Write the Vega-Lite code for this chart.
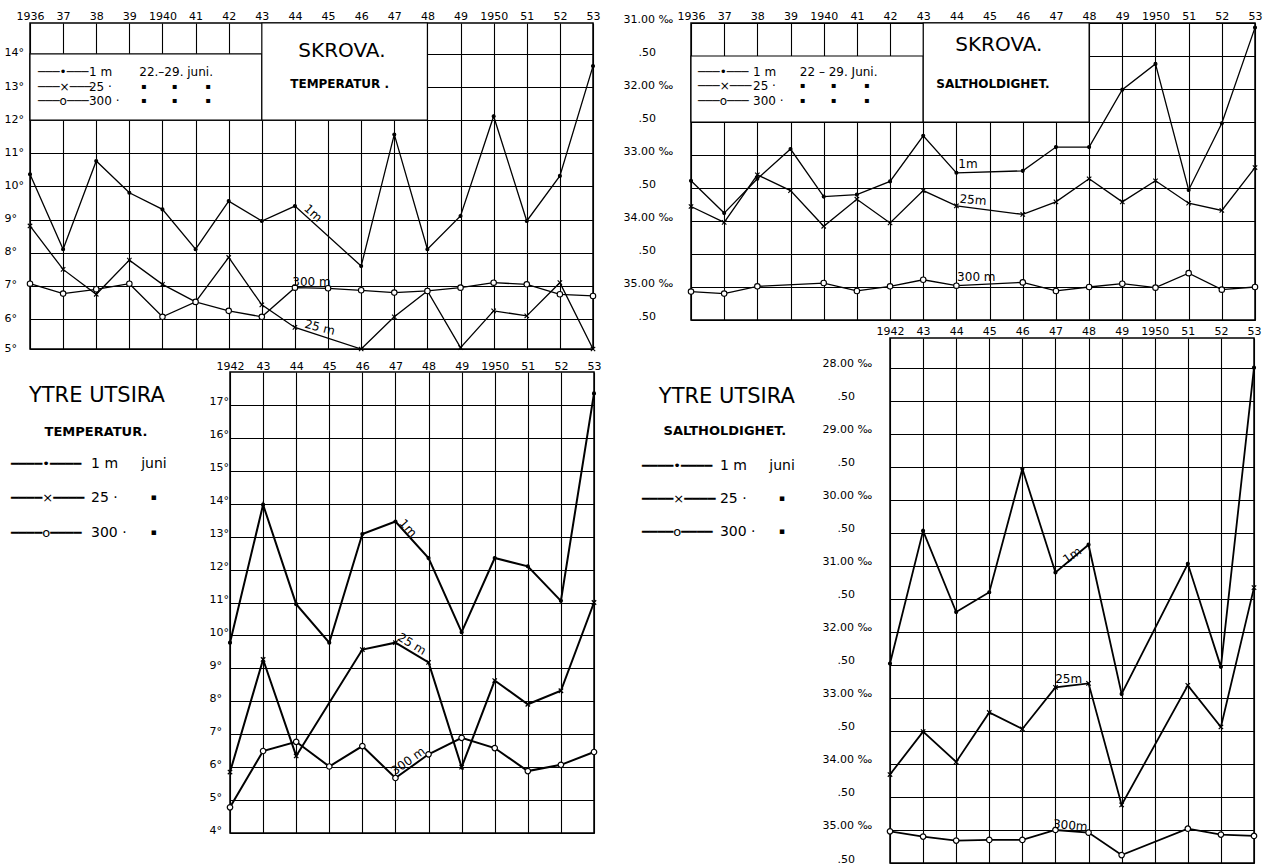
{
  "$schema": "https://vega.github.io/schema/vega-lite/v6.json",
  "background": "white",
  "padding": {"left": 3, "top": 9, "right": 0, "bottom": 0},
  "config": {
    "view": {"stroke": "black", "strokeWidth": 1.5},
    "axis": {"domain": false, "ticks": false, "tickSize": 0, "grid": true, "gridColor": "black", "gridOpacity": 1, "gridWidth": 1.1, "labelColor": "black", "labelFont": "DejaVu Sans", "labelFontSize": 11, "labelOverlap": false, "labelFlush": false, "labelBound": false, "tickCount": 60},
    "text": {"font": "DejaVu Sans", "color": "black"}
  },
  "datasets": {
    "skrova_temp": [
      {"year":1936,"depth":"1m","value":10.37},{"year":1937,"depth":"1m","value":8.11},{"year":1938,"depth":"1m","value":10.77},{"year":1939,"depth":"1m","value":9.81},{"year":1940,"depth":"1m","value":9.31},{"year":1941,"depth":"1m","value":8.11},{"year":1942,"depth":"1m","value":9.56},{"year":1943,"depth":"1m","value":8.96},{"year":1944,"depth":"1m","value":9.41},{"year":1946,"depth":"1m","value":7.6},{"year":1947,"depth":"1m","value":11.57},{"year":1948,"depth":"1m","value":8.11},{"year":1949,"depth":"1m","value":9.11},{"year":1950,"depth":"1m","value":12.12},{"year":1951,"depth":"1m","value":8.96},{"year":1952,"depth":"1m","value":10.32},{"year":1953,"depth":"1m","value":13.63},
      {"year":1936,"depth":"25m","value":8.81},{"year":1937,"depth":"25m","value":7.5},{"year":1938,"depth":"25m","value":6.75},{"year":1939,"depth":"25m","value":7.78},{"year":1940,"depth":"25m","value":7.05},{"year":1941,"depth":"25m","value":6.52},{"year":1942,"depth":"25m","value":7.86},{"year":1943,"depth":"25m","value":6.43},{"year":1944,"depth":"25m","value":5.75},{"year":1946,"depth":"25m","value":5.1},{"year":1947,"depth":"25m","value":6.07},{"year":1948,"depth":"25m","value":6.85},{"year":1949,"depth":"25m","value":5.14},{"year":1950,"depth":"25m","value":6.25},{"year":1951,"depth":"25m","value":6.1},{"year":1952,"depth":"25m","value":7.1},{"year":1953,"depth":"25m","value":5.1},
      {"year":1936,"depth":"300m","value":7.07},{"year":1937,"depth":"300m","value":6.77},{"year":1938,"depth":"300m","value":6.9},{"year":1939,"depth":"300m","value":7.07},{"year":1940,"depth":"300m","value":6.07},{"year":1941,"depth":"300m","value":6.52},{"year":1942,"depth":"300m","value":6.25},{"year":1943,"depth":"300m","value":6.07},{"year":1944,"depth":"300m","value":6.95},{"year":1945,"depth":"300m","value":6.93},{"year":1946,"depth":"300m","value":6.87},{"year":1947,"depth":"300m","value":6.8},{"year":1948,"depth":"300m","value":6.85},{"year":1949,"depth":"300m","value":6.95},{"year":1950,"depth":"300m","value":7.1},{"year":1951,"depth":"300m","value":7.05},{"year":1952,"depth":"300m","value":6.75},{"year":1953,"depth":"300m","value":6.7}
    ],
    "skrova_salt": [
      {"year":1936,"depth":"1m","value":33.39},{"year":1937,"depth":"1m","value":33.88},{"year":1938,"depth":"1m","value":33.36},{"year":1939,"depth":"1m","value":32.91},{"year":1940,"depth":"1m","value":33.63},{"year":1941,"depth":"1m","value":33.6},{"year":1942,"depth":"1m","value":33.4},{"year":1943,"depth":"1m","value":32.71},{"year":1944,"depth":"1m","value":33.27},{"year":1946,"depth":"1m","value":33.24},{"year":1947,"depth":"1m","value":32.88},{"year":1948,"depth":"1m","value":32.88},{"year":1949,"depth":"1m","value":32.01},{"year":1950,"depth":"1m","value":31.62},{"year":1951,"depth":"1m","value":33.53},{"year":1952,"depth":"1m","value":32.52},{"year":1953,"depth":"1m","value":31.07},
      {"year":1936,"depth":"25m","value":33.78},{"year":1937,"depth":"25m","value":34.02},{"year":1938,"depth":"25m","value":33.3},{"year":1939,"depth":"25m","value":33.54},{"year":1940,"depth":"25m","value":34.08},{"year":1941,"depth":"25m","value":33.67},{"year":1942,"depth":"25m","value":34.03},{"year":1943,"depth":"25m","value":33.54},{"year":1944,"depth":"25m","value":33.77},{"year":1946,"depth":"25m","value":33.9},{"year":1947,"depth":"25m","value":33.71},{"year":1948,"depth":"25m","value":33.36},{"year":1949,"depth":"25m","value":33.71},{"year":1950,"depth":"25m","value":33.39},{"year":1951,"depth":"25m","value":33.73},{"year":1952,"depth":"25m","value":33.84},{"year":1953,"depth":"25m","value":33.19},
      {"year":1936,"depth":"300m","value":35.07},{"year":1937,"depth":"300m","value":35.1},{"year":1938,"depth":"300m","value":34.99},{"year":1940,"depth":"300m","value":34.94},{"year":1941,"depth":"300m","value":35.06},{"year":1942,"depth":"300m","value":34.99},{"year":1943,"depth":"300m","value":34.89},{"year":1944,"depth":"300m","value":34.98},{"year":1946,"depth":"300m","value":34.93},{"year":1947,"depth":"300m","value":35.06},{"year":1948,"depth":"300m","value":35.0},{"year":1949,"depth":"300m","value":34.95},{"year":1950,"depth":"300m","value":35.01},{"year":1951,"depth":"300m","value":34.79},{"year":1952,"depth":"300m","value":35.04},{"year":1953,"depth":"300m","value":35.0}
    ],
    "utsira_temp": [
      {"year":1942,"depth":"1m","value":9.78},{"year":1943,"depth":"1m","value":13.97},{"year":1944,"depth":"1m","value":10.95},{"year":1945,"depth":"1m","value":9.78},{"year":1946,"depth":"1m","value":13.08},{"year":1947,"depth":"1m","value":13.46},{"year":1948,"depth":"1m","value":12.35},{"year":1949,"depth":"1m","value":10.1},{"year":1950,"depth":"1m","value":12.35},{"year":1951,"depth":"1m","value":12.1},{"year":1952,"depth":"1m","value":11.05},{"year":1953,"depth":"1m","value":17.35},
      {"year":1942,"depth":"25m","value":5.85},{"year":1943,"depth":"25m","value":9.27},{"year":1944,"depth":"25m","value":6.34},{"year":1946,"depth":"25m","value":9.57},{"year":1947,"depth":"25m","value":9.78},{"year":1948,"depth":"25m","value":9.18},{"year":1949,"depth":"25m","value":6.0},{"year":1950,"depth":"25m","value":8.63},{"year":1951,"depth":"25m","value":7.91},{"year":1952,"depth":"25m","value":8.32},{"year":1953,"depth":"25m","value":11.0},
      {"year":1942,"depth":"300m","value":4.78},{"year":1943,"depth":"300m","value":6.49},{"year":1944,"depth":"300m","value":6.77},{"year":1945,"depth":"300m","value":6.02},{"year":1946,"depth":"300m","value":6.64},{"year":1947,"depth":"300m","value":5.67},{"year":1948,"depth":"300m","value":6.39},{"year":1949,"depth":"300m","value":6.89},{"year":1950,"depth":"300m","value":6.58},{"year":1951,"depth":"300m","value":5.88},{"year":1952,"depth":"300m","value":6.07},{"year":1953,"depth":"300m","value":6.46}
    ],
    "utsira_salt": [
      {"year":1942,"depth":"1m","value":32.48},{"year":1943,"depth":"1m","value":30.47},{"year":1944,"depth":"1m","value":31.7},{"year":1945,"depth":"1m","value":31.4},{"year":1946,"depth":"1m","value":29.53},{"year":1947,"depth":"1m","value":31.1},{"year":1948,"depth":"1m","value":30.68},{"year":1949,"depth":"1m","value":32.94},{"year":1951,"depth":"1m","value":30.97},{"year":1952,"depth":"1m","value":32.53},{"year":1953,"depth":"1m","value":28.0},
      {"year":1942,"depth":"25m","value":34.16},{"year":1943,"depth":"25m","value":33.51},{"year":1944,"depth":"25m","value":33.97},{"year":1945,"depth":"25m","value":33.22},{"year":1946,"depth":"25m","value":33.47},{"year":1947,"depth":"25m","value":32.84},{"year":1948,"depth":"25m","value":32.78},{"year":1949,"depth":"25m","value":34.62},{"year":1951,"depth":"25m","value":32.81},{"year":1952,"depth":"25m","value":33.44},{"year":1953,"depth":"25m","value":31.33},
      {"year":1942,"depth":"300m","value":35.02},{"year":1943,"depth":"300m","value":35.1},{"year":1944,"depth":"300m","value":35.16},{"year":1945,"depth":"300m","value":35.15},{"year":1946,"depth":"300m","value":35.15},{"year":1947,"depth":"300m","value":35.0},{"year":1948,"depth":"300m","value":35.04},{"year":1949,"depth":"300m","value":35.38},{"year":1951,"depth":"300m","value":34.98},{"year":1952,"depth":"300m","value":35.07},{"year":1953,"depth":"300m","value":35.09}
    ]
  },
  "spacing": 20,
  "hconcat": [
    {
      "spacing": 4,
      "vconcat": [
        {
          "width": 563, "height": 326,
          "layer": [
            {"data": {"name": "skrova_temp"}, "mark": {"type": "line", "color": "black", "strokeWidth": 1.3},
             "encoding": {
               "x": {"field": "year", "type": "quantitative", "scale": {"domain": [1936, 1953], "zero": false, "nice": false}, "axis": {"orient": "top", "title": null, "tickCount": 60, "values": [1936,1937,1938,1939,1940,1941,1942,1943,1944,1945,1946,1947,1948,1949,1950,1951,1952,1953], "labelExpr": "datum.value == 1936 || datum.value == 1940 || datum.value == 1950 ? '' + datum.value : substring('' + datum.value, 2)", "labelPadding": 2}},
               "y": {"field": "value", "type": "quantitative", "scale": {"domain": [5.1, 14.93], "zero": false, "nice": false}, "axis": {"title": null, "tickCount": 60, "values": [5.1,6,7,8,9,10,11,12,13,14], "labelExpr": "datum.value < 5.5 ? '5°' : datum.value + '°'", "labelAlign": "left", "labelPadding": 26, "labelOffset": -1}},
               "detail": {"field": "depth"}}},
            {"data": {"values": [{"box": "legend"}]}, "mark": {"type": "rect", "fill": "white", "stroke": "black", "strokeWidth": 1.2},
             "encoding": {"x": {"datum": 1936, "type": "quantitative"}, "x2": {"datum": 1943}, "y": {"datum": 12, "type": "quantitative"}, "y2": {"datum": 14}}},
            {"data": {"values": [{"box": "title"}]}, "mark": {"type": "rect", "fill": "white", "stroke": "black", "strokeWidth": 1.2},
             "encoding": {"x": {"datum": 1943, "type": "quantitative"}, "x2": {"datum": 1948}, "y": {"datum": 12, "type": "quantitative"}, "y2": {"datum": 14.93}}},
            {"data": {"name": "skrova_temp"}, "mark": {"type": "point", "filled": true, "stroke": "black", "strokeWidth": 1.1, "opacity": 1},
             "encoding": {
               "x": {"field": "year", "type": "quantitative"},
               "y": {"field": "value", "type": "quantitative"},
               "shape": {"field": "depth", "type": "nominal", "scale": {"domain": ["1m","25m","300m"], "range": ["circle","M-1,-1L1,1M-1,1L1,-1","circle"]}, "legend": null},
               "fill": {"field": "depth", "type": "nominal", "scale": {"domain": ["1m","25m","300m"], "range": ["black","white","white"]}, "legend": null},
               "size": {"field": "depth", "type": "ordinal", "scale": {"domain": ["1m","25m","300m"], "range": [9,30,38]}, "legend": null}}},
            {"data": {"values": [{"t": "SKROVA."}]}, "mark": {"type": "text", "fontSize": 20, "align": "center", "baseline": "middle"},
             "encoding": {"x": {"datum": 1945.42, "type": "quantitative"}, "y": {"datum": 14.09, "type": "quantitative"}, "text": {"field": "t"}}},
            {"data": {"values": [{"t": "TEMPERATUR ."}]}, "mark": {"type": "text", "fontSize": 12, "fontWeight": "bold", "align": "center", "baseline": "middle"},
             "encoding": {"x": {"datum": 1945.35, "type": "quantitative"}, "y": {"datum": 13.09, "type": "quantitative"}, "text": {"field": "t"}}},
            {"data": {"values": [{"t": ["───•───", "───×───", "───o───"]}]}, "mark": {"type": "text", "fontSize": 12, "align": "left", "baseline": "alphabetic", "lineHeight": 14.5},
             "encoding": {"x": {"datum": 1936.24, "type": "quantitative"}, "y": {"datum": 13.33, "type": "quantitative"}, "text": {"field": "t"}}},
            {"data": {"values": [{"t": ["1 m", "25 ·", "300 ·"]}]}, "mark": {"type": "text", "fontSize": 12, "align": "left", "baseline": "alphabetic", "lineHeight": 14.5},
             "encoding": {"x": {"datum": 1937.78, "type": "quantitative"}, "y": {"datum": 13.33, "type": "quantitative"}, "text": {"field": "t"}}},
            {"data": {"values": [{"t": "22.–29. juni."}]}, "mark": {"type": "text", "fontSize": 12, "align": "left", "baseline": "alphabetic"},
             "encoding": {"x": {"datum": 1939.3, "type": "quantitative"}, "y": {"datum": 13.33, "type": "quantitative"}, "text": {"field": "t"}}},
            {"data": {"values": [{"t": ["▪\u00a0\u00a0\u00a0\u00a0\u00a0\u00a0\u00a0\u00a0\u00a0\u00a0▪\u00a0\u00a0\u00a0\u00a0\u00a0\u00a0\u00a0\u00a0\u00a0\u00a0\u00a0▪", "▪\u00a0\u00a0\u00a0\u00a0\u00a0\u00a0\u00a0\u00a0\u00a0\u00a0▪\u00a0\u00a0\u00a0\u00a0\u00a0\u00a0\u00a0\u00a0\u00a0\u00a0\u00a0▪"]}]}, "mark": {"type": "text", "fontSize": 8, "align": "left", "baseline": "alphabetic", "lineHeight": 14.5},
             "encoding": {"x": {"datum": 1939.35, "type": "quantitative"}, "y": {"datum": 12.95, "type": "quantitative"}, "text": {"field": "t"}}},
            {"data": {"values": [{"t": "1m"}]}, "mark": {"type": "text", "fontSize": 12, "angle": 42, "align": "center", "baseline": "middle"},
             "encoding": {"x": {"datum": 1944.55, "type": "quantitative"}, "y": {"datum": 9.2, "type": "quantitative"}, "text": {"field": "t"}}},
            {"data": {"values": [{"t": "25 m"}]}, "mark": {"type": "text", "fontSize": 12, "angle": 14, "align": "center", "baseline": "middle"},
             "encoding": {"x": {"datum": 1944.75, "type": "quantitative"}, "y": {"datum": 5.75, "type": "quantitative"}, "text": {"field": "t"}}},
            {"data": {"values": [{"t": "300 m"}]}, "mark": {"type": "text", "fontSize": 12, "align": "center", "baseline": "middle"},
             "encoding": {"x": {"datum": 1944.5, "type": "quantitative"}, "y": {"datum": 7.12, "type": "quantitative"}, "text": {"field": "t"}}}
          ]
        },
        {
          "spacing": 0,
          "bounds": "flush",
          "hconcat": [
            {"width": 200, "height": 10, "view": {"stroke": null}, "data": {"values": []}, "mark": "point"},
            {
              "width": 364, "height": 461,
              "layer": [
                {"data": {"name": "utsira_temp"}, "mark": {"type": "line", "color": "black", "strokeWidth": 2},
                 "encoding": {
                   "x": {"field": "year", "type": "quantitative", "scale": {"domain": [1942, 1953], "zero": false, "nice": false}, "axis": {"orient": "top", "title": null, "tickCount": 60, "values": [1942,1943,1944,1945,1946,1947,1948,1949,1950,1951,1952,1953], "labelExpr": "datum.value == 1942 || datum.value == 1950 ? '' + datum.value : substring('' + datum.value, 2)", "labelPadding": 1}},
                   "y": {"field": "value", "type": "quantitative", "scale": {"domain": [4, 18], "zero": false, "nice": false}, "axis": {"title": null, "tickCount": 60, "values": [4,5,6,7,8,9,10,11,12,13,14,15,16,17], "labelExpr": "datum.value + '°'", "labelAlign": "left", "labelPadding": 21, "labelOffset": -3}},
                   "detail": {"field": "depth"}}},
                {"data": {"name": "utsira_temp"}, "mark": {"type": "point", "filled": true, "stroke": "black", "strokeWidth": 1.2, "opacity": 1},
                 "encoding": {
                   "x": {"field": "year", "type": "quantitative"},
                   "y": {"field": "value", "type": "quantitative"},
                   "shape": {"field": "depth", "type": "nominal", "scale": {"domain": ["1m","25m","300m"], "range": ["circle","M-1,-1L1,1M-1,1L1,-1","circle"]}, "legend": null},
                   "fill": {"field": "depth", "type": "nominal", "scale": {"domain": ["1m","25m","300m"], "range": ["black","white","white"]}, "legend": null},
                   "size": {"field": "depth", "type": "ordinal", "scale": {"domain": ["1m","25m","300m"], "range": [9,30,40]}, "legend": null}}},
                {"data": {"values": [{"t": "YTRE UTSIRA"}]}, "mark": {"type": "text", "fontSize": 21, "align": "center", "baseline": "middle"},
                 "encoding": {"x": {"datum": 1937.98, "type": "quantitative"}, "y": {"datum": 17.27, "type": "quantitative"}, "text": {"field": "t"}}},
                {"data": {"values": [{"t": "TEMPERATUR."}]}, "mark": {"type": "text", "fontSize": 13, "fontWeight": "bold", "align": "center", "baseline": "middle"},
                 "encoding": {"x": {"datum": 1937.95, "type": "quantitative"}, "y": {"datum": 16.18, "type": "quantitative"}, "text": {"field": "t"}}},
                {"data": {"values": [{"t": ["━━━━•━━━━", "━━━━×━━━━", "━━━━o━━━━"]}]}, "mark": {"type": "text", "fontSize": 13, "align": "left", "baseline": "alphabetic", "lineHeight": 34.5},
                 "encoding": {"x": {"datum": 1935.38, "type": "quantitative"}, "y": {"datum": 15.085, "type": "quantitative"}, "text": {"field": "t"}}},
                {"data": {"values": [{"t": ["1 m", "25 ·", "300 ·"]}]}, "mark": {"type": "text", "fontSize": 14, "align": "left", "baseline": "alphabetic", "lineHeight": 34.5},
                 "encoding": {"x": {"datum": 1937.8, "type": "quantitative"}, "y": {"datum": 15.085, "type": "quantitative"}, "text": {"field": "t"}}},
                {"data": {"values": [{"t": "juni"}]}, "mark": {"type": "text", "fontSize": 14, "align": "center", "baseline": "alphabetic"},
                 "encoding": {"x": {"datum": 1939.7, "type": "quantitative"}, "y": {"datum": 15.085, "type": "quantitative"}, "text": {"field": "t"}}},
                {"data": {"values": [{"t": ["▪", "▪"]}]}, "mark": {"type": "text", "fontSize": 9, "align": "center", "baseline": "alphabetic", "lineHeight": 34.5},
                 "encoding": {"x": {"datum": 1939.7, "type": "quantitative"}, "y": {"datum": 14.1, "type": "quantitative"}, "text": {"field": "t"}}},
                {"data": {"values": [{"t": "1m"}]}, "mark": {"type": "text", "fontSize": 12, "angle": 48, "align": "center", "baseline": "middle"},
                 "encoding": {"x": {"datum": 1947.38, "type": "quantitative"}, "y": {"datum": 13.26, "type": "quantitative"}, "text": {"field": "t"}}},
                {"data": {"values": [{"t": "25 m"}]}, "mark": {"type": "text", "fontSize": 12, "angle": 31, "align": "center", "baseline": "middle"},
                 "encoding": {"x": {"datum": 1947.5, "type": "quantitative"}, "y": {"datum": 9.74, "type": "quantitative"}, "text": {"field": "t"}}},
                {"data": {"values": [{"t": "300 m"}]}, "mark": {"type": "text", "fontSize": 12, "angle": -36, "align": "center", "baseline": "middle"},
                 "encoding": {"x": {"datum": 1947.38, "type": "quantitative"}, "y": {"datum": 6.19, "type": "quantitative"}, "text": {"field": "t"}}}
              ]
            }
          ]
        }
      ]
    },
    {
      "spacing": 2,
      "vconcat": [
        {
          "width": 564, "height": 297,
          "layer": [
            {"data": {"name": "skrova_salt"}, "mark": {"type": "line", "color": "black", "strokeWidth": 1.3},
             "encoding": {
               "x": {"field": "year", "type": "quantitative", "scale": {"domain": [1936, 1953], "zero": false, "nice": false}, "axis": {"orient": "top", "title": null, "tickCount": 60, "values": [1936,1937,1938,1939,1940,1941,1942,1943,1944,1945,1946,1947,1948,1949,1950,1951,1952,1953], "labelExpr": "datum.value == 1936 || datum.value == 1940 || datum.value == 1950 ? '' + datum.value : substring('' + datum.value, 2)", "labelPadding": 2}},
               "y": {"field": "value", "type": "quantitative", "scale": {"domain": [31, 35.5], "reverse": true, "zero": false, "nice": false}, "axis": {"title": null, "tickCount": 60, "values": [31,31.5,32,32.5,33,33.5,34,34.5,35,35.5], "labelExpr": "datum.value % 1 == 0 ? format(datum.value, '.2f') + ' ‰' : '.50'", "labelAlign": "left", "labelPadding": {"condition": {"test": "datum.value % 1 != 0", "value": 53}, "value": 68}, "labelOffset": -4}},
               "detail": {"field": "depth"}}},
            {"data": {"values": [{"box": "legend"}]}, "mark": {"type": "rect", "fill": "white", "stroke": "black", "strokeWidth": 1.2},
             "encoding": {"x": {"datum": 1936, "type": "quantitative"}, "x2": {"datum": 1943}, "y": {"datum": 31.5, "type": "quantitative"}, "y2": {"datum": 32.5}}},
            {"data": {"values": [{"box": "title"}]}, "mark": {"type": "rect", "fill": "white", "stroke": "black", "strokeWidth": 1.2},
             "encoding": {"x": {"datum": 1943, "type": "quantitative"}, "x2": {"datum": 1948}, "y": {"datum": 31.0, "type": "quantitative"}, "y2": {"datum": 32.5}}},
            {"data": {"name": "skrova_salt"}, "mark": {"type": "point", "filled": true, "stroke": "black", "strokeWidth": 1.1, "opacity": 1},
             "encoding": {
               "x": {"field": "year", "type": "quantitative"},
               "y": {"field": "value", "type": "quantitative"},
               "shape": {"field": "depth", "type": "nominal", "scale": {"domain": ["1m","25m","300m"], "range": ["circle","M-1,-1L1,1M-1,1L1,-1","circle"]}, "legend": null},
               "fill": {"field": "depth", "type": "nominal", "scale": {"domain": ["1m","25m","300m"], "range": ["black","white","white"]}, "legend": null},
               "size": {"field": "depth", "type": "ordinal", "scale": {"domain": ["1m","25m","300m"], "range": [9,30,38]}, "legend": null}}},
            {"data": {"values": [{"t": "SKROVA."}]}, "mark": {"type": "text", "fontSize": 20, "align": "center", "baseline": "middle"},
             "encoding": {"x": {"datum": 1945.28, "type": "quantitative"}, "y": {"datum": 31.33, "type": "quantitative"}, "text": {"field": "t"}}},
            {"data": {"values": [{"t": "SALTHOLDIGHET."}]}, "mark": {"type": "text", "fontSize": 12, "fontWeight": "bold", "align": "center", "baseline": "middle"},
             "encoding": {"x": {"datum": 1945.1, "type": "quantitative"}, "y": {"datum": 31.92, "type": "quantitative"}, "text": {"field": "t"}}},
            {"data": {"values": [{"t": ["───•───", "───×───", "───o───"]}]}, "mark": {"type": "text", "fontSize": 12, "align": "left", "baseline": "alphabetic", "lineHeight": 14.5},
             "encoding": {"x": {"datum": 1936.21, "type": "quantitative"}, "y": {"datum": 31.8, "type": "quantitative"}, "text": {"field": "t"}}},
            {"data": {"values": [{"t": ["1  m", "25 ·", "300 ·"]}]}, "mark": {"type": "text", "fontSize": 12, "align": "left", "baseline": "alphabetic", "lineHeight": 14.5},
             "encoding": {"x": {"datum": 1937.87, "type": "quantitative"}, "y": {"datum": 31.8, "type": "quantitative"}, "text": {"field": "t"}}},
            {"data": {"values": [{"t": "22 – 29. Juni."}]}, "mark": {"type": "text", "fontSize": 12, "align": "left", "baseline": "alphabetic"},
             "encoding": {"x": {"datum": 1939.28, "type": "quantitative"}, "y": {"datum": 31.8, "type": "quantitative"}, "text": {"field": "t"}}},
            {"data": {"values": [{"t": ["\u00a0▪\u00a0\u00a0\u00a0\u00a0\u00a0\u00a0\u00a0\u00a0\u00a0\u00a0▪\u00a0\u00a0\u00a0\u00a0\u00a0\u00a0\u00a0\u00a0\u00a0\u00a0\u00a0▪", "\u00a0▪\u00a0\u00a0\u00a0\u00a0\u00a0\u00a0\u00a0\u00a0\u00a0\u00a0▪\u00a0\u00a0\u00a0\u00a0\u00a0\u00a0\u00a0\u00a0\u00a0\u00a0\u00a0▪"]}]}, "mark": {"type": "text", "fontSize": 8, "align": "left", "baseline": "alphabetic", "lineHeight": 14.5},
             "encoding": {"x": {"datum": 1939.28, "type": "quantitative"}, "y": {"datum": 31.99, "type": "quantitative"}, "text": {"field": "t"}}},
            {"data": {"values": [{"t": "1m"}]}, "mark": {"type": "text", "fontSize": 12, "align": "center", "baseline": "middle"},
             "encoding": {"x": {"datum": 1944.35, "type": "quantitative"}, "y": {"datum": 33.13, "type": "quantitative"}, "text": {"field": "t"}}},
            {"data": {"values": [{"t": "25m"}]}, "mark": {"type": "text", "fontSize": 12, "angle": 5, "align": "center", "baseline": "middle"},
             "encoding": {"x": {"datum": 1944.5, "type": "quantitative"}, "y": {"datum": 33.68, "type": "quantitative"}, "text": {"field": "t"}}},
            {"data": {"values": [{"t": "300 m"}]}, "mark": {"type": "text", "fontSize": 12, "align": "center", "baseline": "middle"},
             "encoding": {"x": {"datum": 1944.6, "type": "quantitative"}, "y": {"datum": 34.85, "type": "quantitative"}, "text": {"field": "t"}}}
          ]
        },
        {
          "spacing": 0,
          "bounds": "flush",
          "hconcat": [
            {"width": 199, "height": 10, "view": {"stroke": null}, "data": {"values": []}, "mark": "point"},
            {
              "width": 364, "height": 525,
              "layer": [
                {"data": {"name": "utsira_salt"}, "mark": {"type": "line", "color": "black", "strokeWidth": 1.8},
                 "encoding": {
                   "x": {"field": "year", "type": "quantitative", "scale": {"domain": [1942, 1953], "zero": false, "nice": false}, "axis": {"orient": "top", "title": null, "tickCount": 60, "values": [1942,1943,1944,1945,1946,1947,1948,1949,1950,1951,1952,1953], "labelExpr": "datum.value == 1942 || datum.value == 1950 ? '' + datum.value : substring('' + datum.value, 2)", "labelPadding": 2}},
                   "y": {"field": "value", "type": "quantitative", "scale": {"domain": [27.55, 35.5], "reverse": true, "zero": false, "nice": false}, "axis": {"title": null, "tickCount": 60, "values": [28,28.5,29,29.5,30,30.5,31,31.5,32,32.5,33,33.5,34,34.5,35,35.5], "labelExpr": "datum.value % 1 == 0 ? format(datum.value, '.2f') + ' ‰' : '.50'", "labelAlign": "left", "labelPadding": {"condition": {"test": "datum.value % 1 != 0", "value": 53}, "value": 68}, "labelOffset": -4}},
                   "detail": {"field": "depth"}}},
                {"data": {"name": "utsira_salt"}, "mark": {"type": "point", "filled": true, "stroke": "black", "strokeWidth": 1.2, "opacity": 1},
                 "encoding": {
                   "x": {"field": "year", "type": "quantitative"},
                   "y": {"field": "value", "type": "quantitative"},
                   "shape": {"field": "depth", "type": "nominal", "scale": {"domain": ["1m","25m","300m"], "range": ["circle","M-1,-1L1,1M-1,1L1,-1","circle"]}, "legend": null},
                   "fill": {"field": "depth", "type": "nominal", "scale": {"domain": ["1m","25m","300m"], "range": ["black","white","white"]}, "legend": null},
                   "size": {"field": "depth", "type": "ordinal", "scale": {"domain": ["1m","25m","300m"], "range": [9,30,40]}, "legend": null}}},
                {"data": {"values": [{"t": "YTRE UTSIRA"}]}, "mark": {"type": "text", "fontSize": 21, "align": "center", "baseline": "middle"},
                 "encoding": {"x": {"datum": 1937.07, "type": "quantitative"}, "y": {"datum": 28.443, "type": "quantitative"}, "text": {"field": "t"}}},
                {"data": {"values": [{"t": "SALTHOLDIGHET."}]}, "mark": {"type": "text", "fontSize": 13, "fontWeight": "bold", "align": "center", "baseline": "middle"},
                 "encoding": {"x": {"datum": 1937.01, "type": "quantitative"}, "y": {"datum": 28.958, "type": "quantitative"}, "text": {"field": "t"}}},
                {"data": {"values": [{"t": ["━━━━•━━━━", "━━━━×━━━━", "━━━━o━━━━"]}]}, "mark": {"type": "text", "fontSize": 13, "align": "left", "baseline": "alphabetic", "lineHeight": 33},
                 "encoding": {"x": {"datum": 1934.505, "type": "quantitative"}, "y": {"datum": 29.549, "type": "quantitative"}, "text": {"field": "t"}}},
                {"data": {"values": [{"t": ["1  m", "25 ·", "300 ·"]}]}, "mark": {"type": "text", "fontSize": 14, "align": "left", "baseline": "alphabetic", "lineHeight": 33},
                 "encoding": {"x": {"datum": 1936.86, "type": "quantitative"}, "y": {"datum": 29.549, "type": "quantitative"}, "text": {"field": "t"}}},
                {"data": {"values": [{"t": "juni"}]}, "mark": {"type": "text", "fontSize": 14, "align": "center", "baseline": "alphabetic"},
                 "encoding": {"x": {"datum": 1938.74, "type": "quantitative"}, "y": {"datum": 29.549, "type": "quantitative"}, "text": {"field": "t"}}},
                {"data": {"values": [{"t": ["▪", "▪"]}]}, "mark": {"type": "text", "fontSize": 9, "align": "center", "baseline": "alphabetic", "lineHeight": 33},
                 "encoding": {"x": {"datum": 1938.74, "type": "quantitative"}, "y": {"datum": 30.02, "type": "quantitative"}, "text": {"field": "t"}}},
                {"data": {"values": [{"t": "1m"}]}, "mark": {"type": "text", "fontSize": 12, "angle": -35, "align": "center", "baseline": "middle"},
                 "encoding": {"x": {"datum": 1947.5, "type": "quantitative"}, "y": {"datum": 30.84, "type": "quantitative"}, "text": {"field": "t"}}},
                {"data": {"values": [{"t": "25m"}]}, "mark": {"type": "text", "fontSize": 12, "align": "center", "baseline": "middle"},
                 "encoding": {"x": {"datum": 1947.4, "type": "quantitative"}, "y": {"datum": 32.71, "type": "quantitative"}, "text": {"field": "t"}}},
                {"data": {"values": [{"t": "300m"}]}, "mark": {"type": "text", "fontSize": 12, "angle": 5, "align": "center", "baseline": "middle"},
                 "encoding": {"x": {"datum": 1947.45, "type": "quantitative"}, "y": {"datum": 34.93, "type": "quantitative"}, "text": {"field": "t"}}}
              ]
            }
          ]
        }
      ]
    }
  ]
}
